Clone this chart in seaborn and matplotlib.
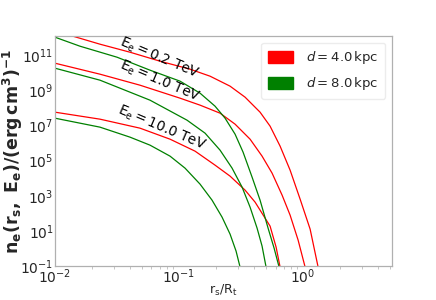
import numpy as np
import pandas as pd
import matplotlib
matplotlib.use("Agg")
import matplotlib.pyplot as plt
import seaborn as sns
from matplotlib.patches import Patch

# ---- data (x = r_s/R_t, y = n_e) ----
# d = 4.0 kpc (red)
red_02_x = [0.0100, 0.01397, 0.02306, 0.04024, 0.07027, 0.1227, 0.1778, 0.2578, 0.3406, 0.4498,
            0.5418, 0.6524, 0.7854, 0.9458, 1.139, 1.321]
red_02_y = [2.25e12, 1.17e12, 4.11e11, 1.44e11, 4.44e10, 1.56e10, 6.24e9, 1.69e9, 4.00e8, 5.62e7,
            9.01e6, 6.58e5, 2.85e4, 641, 12.6, 0.0877]
red_10_x = [0.0100, 0.02306, 0.04846, 0.1019, 0.1477, 0.2141, 0.2829, 0.3737, 0.4669, 0.5623,
            0.6770, 0.7854, 0.9114, 1.0378]
red_10_y = [3.42e10, 8.11e9, 1.92e9, 3.51e8, 1.41e8, 4.93e7, 1.17e7, 1.64e6, 1.78e5, 1.92e4,
            1.08e3, 79.1, 3.00, 0.0877]
red_100_x = [0.0100, 0.02306, 0.04846, 0.08463, 0.1346, 0.1951, 0.2578, 0.3406, 0.4101, 0.4937,
             0.5418, 0.6057, 0.6524]
red_100_y = [5.62e7, 2.25e7, 6.93e6, 1.64e6, 3.42e5, 5.48e4, 1.30e4, 2.08e3, 433, 53.3,
             18.7, 1.20, 0.0877]
# d = 8.0 kpc (green)
grn_02_x = [0.0100, 0.01591, 0.03162, 0.05836, 0.1019, 0.1477, 0.1951, 0.2350, 0.2829, 0.3282,
            0.3879, 0.4498, 0.5220, 0.5836, 0.6404]
grn_02_y = [1.03e12, 3.16e11, 7.50e10, 1.37e10, 3.25e9, 6.76e8, 1.23e8, 2.56e7, 3.16e6, 3.00e5,
            1.14e4, 562, 14.4, 1.05, 0.0877]
grn_10_x = [0.0100, 0.02306, 0.05836, 0.1160, 0.1621, 0.2141, 0.2676, 0.3222, 0.3737, 0.4256,
            0.4669, 0.5030]
grn_10_y = [1.78e10, 3.70e9, 2.70e8, 1.97e7, 3.60e6, 3.90e5, 3.70e4, 3.08e3, 225, 14.4,
            1.37, 0.0877]
grn_100_x = [0.0100, 0.02306, 0.04024, 0.05836, 0.08463, 0.1118, 0.1477, 0.1845, 0.2222, 0.2578,
             0.2882, 0.3104]
grn_100_y = [2.56e7, 7.91e6, 2.14e6, 7.50e5, 1.78e5, 3.70e4, 4.56e3, 562, 60.8, 6.58,
             0.711, 0.0877]

energies = ["0.2", "1.0", "10.0"]
distances = ["4.0", "8.0"]
colors = {"4.0": "red", "8.0": "green"}

rows = []
for d, e, xs, ys in [("4.0", "0.2", red_02_x, red_02_y), ("4.0", "1.0", red_10_x, red_10_y),
                     ("4.0", "10.0", red_100_x, red_100_y), ("8.0", "0.2", grn_02_x, grn_02_y),
                     ("8.0", "1.0", grn_10_x, grn_10_y), ("8.0", "10.0", grn_100_x, grn_100_y)]:
    for i, (x, y) in enumerate(zip(xs, ys)):
        rows.append({"d": d, "E": e, "x": x, "y": y, "i": i})
df = pd.DataFrame(rows)

sns.set_theme(style="white")
plt.rcParams["font.family"] = ["DejaVu Sans"]

fig = plt.figure(figsize=(4.36, 3.0), dpi=100)
ax = fig.add_axes([0.126, 0.113, 0.773, 0.767])

for (d, e), g in df.groupby(["d", "E"]):
    g = g.sort_values("i")
    sns.lineplot(data=g, x="x", y="y", ax=ax, color=colors[d], linewidth=0.9,
                 sort=False, estimator=None, legend=False)

ax.set_xscale("log")
ax.set_yscale("log")
ax.set_xlim(1e-2, 5.2)
ax.set_ylim(1e-1, 1.2e12)
ax.set_yticks([10.0**k for k in range(-1, 12, 2)])
ax.yaxis.set_minor_locator(matplotlib.ticker.NullLocator())
ax.tick_params(axis="both", which="major", length=0, labelsize=10, pad=1)
ax.tick_params(axis="x", which="minor", length=2.5, width=0.6, color="#bbbbbb", bottom=True)
for s in ax.spines.values():
    s.set_color("#b0b0b0")
    s.set_linewidth(0.9)

ax.set_xlabel(r"$\mathrm{r_s/R_t}$", fontsize=9)
ax.xaxis.set_label_coords(0.5, -0.072)
ax.set_ylabel(r"$\mathbf{n_e(r_s,\ E_e)/(erg\,cm^3)^{-1}}$", fontsize=12.5)
ax.yaxis.set_label_coords(-0.088, 0.5)

label_pos = {"0.2": (0.070, 7.0e10), "1.0": (0.070, 3.2e9), "10.0": (0.073, 7.5e6)}
for e in energies:
    x, y = label_pos[e]
    ax.text(x, y, r"$\mathrm{E_e = %s\ TeV}$" % e, fontsize=9.8, rotation=-23,
            ha="center", va="center", color="black")

handles = [Patch(facecolor=colors[d], edgecolor=colors[d], label=r"$d = %s\,\mathrm{kpc}$" % d)
           for d in distances]
leg = ax.legend(handles=handles, loc="upper right", fontsize=9.5, frameon=True,
                handlelength=1.9, handleheight=1.0, handletextpad=1.0, borderpad=0.5,
                labelspacing=0.7, borderaxespad=0.5)
leg.get_frame().set_edgecolor("#e8e8e8")

fig.savefig("out.png", dpi=100)
